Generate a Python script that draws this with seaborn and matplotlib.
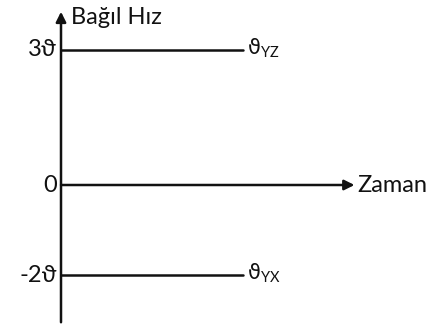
import seaborn as sns
import matplotlib.pyplot as plt
import pandas as pd

# datos del grafico: velocidades relativas
hizlar = [3, -2]
etiketler = ["YZ", "YX"]
tick_etiketleri = ["3ϑ", "0", "-2ϑ"]
tick_degerleri = [3, 0, -2]
t_son = 4.0

sns.set_style("white")
plt.rcParams['font.family'] = ['Lato', 'DejaVu Sans']
plt.rcParams['mathtext.fontset'] = 'custom'
plt.rcParams['mathtext.rm'] = 'DejaVu Sans'
plt.rcParams['mathtext.sf'] = 'Lato'

fig = plt.figure(figsize=(4.37, 3.24), dpi=100)
ax = fig.add_axes([0, 0, 1, 1])

df = pd.DataFrame({
    "t": [0, t_son] * len(hizlar),
    "v": [h for h in hizlar for _ in range(2)],
    "seri": [e for e in etiketler for _ in range(2)],
})
sns.lineplot(data=df, x="t", y="v", units="seri", estimator=None,
             color="#111111", lw=1.8, ax=ax, legend=False)

for h, e in zip(hizlar, etiketler):
    ax.text(t_son + 0.08, h + 0.05, "$\\mathrm{ϑ}_{\\mathsf{" + e + "}}$",
            fontsize=15, va="center", ha="left", color="#111111")

# ejes con flechas
ax.annotate("", xy=(6.45, 0), xytext=(0, 0),
            arrowprops=dict(arrowstyle="-|>", color="#111111", lw=1.8,
                            mutation_scale=15, shrinkA=0, shrinkB=0))
ax.annotate("", xy=(0, 3.85), xytext=(0, -3.05),
            arrowprops=dict(arrowstyle="-|>", color="#111111", lw=1.8,
                            mutation_scale=15, shrinkA=0, shrinkB=0))
ax.text(6.52, 0, "Zaman", fontsize=17, va="center", ha="left", color="#111111")
ax.text(0.22, 3.72, "Bağıl Hız", fontsize=17, va="center", ha="left", color="#111111")

for v, s in zip(tick_degerleri, tick_etiketleri):
    ax.text(-0.09, v, s, fontsize=17, va="center", ha="right", color="#111111")

ax.set_xlim(-61 / 45.5, (437 - 61) / 45.5)
ax.set_ylim(-(324 - 185) / 45, 185 / 45)
ax.axis("off")

fig.savefig("out.png", dpi=100)
